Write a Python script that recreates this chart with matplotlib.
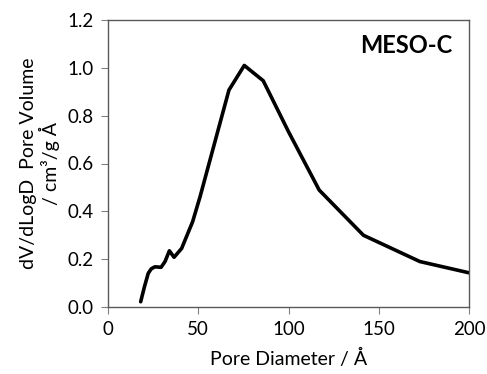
import numpy as np
import matplotlib.pyplot as plt

plt.rcParams['font.family'] = ['Lato', 'DejaVu Sans']

# Pore size distribution
pore_diameter = [18.1, 20.2, 22.3, 24.0, 26.0, 29.4, 31.6, 34.0, 36.6, 40.8, 46.9, 51.0,
                 67.0, 75.5, 86.0, 100.0, 117.0, 141.5, 172.8, 200.0]
dv_dlogd = [0.022, 0.085, 0.141, 0.160, 0.168, 0.166, 0.190, 0.235, 0.208, 0.245, 0.357, 0.461,
            0.907, 1.010, 0.946, 0.733, 0.489, 0.300, 0.190, 0.143]

x_ticks = [0, 50, 100, 150, 200]
y_ticks = [0.0, 0.2, 0.4, 0.6, 0.8, 1.0, 1.2]

fig = plt.figure(figsize=(4.87, 3.74), dpi=100)
ax = fig.add_axes([108 / 487, 1 - 307 / 374, 361 / 487, 287 / 374])

ax.plot(pore_diameter, dv_dlogd, color='black', linewidth=2.6,
        solid_joinstyle='round', solid_capstyle='round')

ax.set_xlim(0, 200)
ax.set_ylim(0, 1.2)
ax.set_xticks(x_ticks)
ax.set_yticks(y_ticks)
ax.set_yticklabels([f'{v:.1f}' for v in y_ticks])
ax.tick_params(direction='out', length=5, color='#808080', labelsize=13.5, pad=5)
for s in ax.spines.values():
    s.set_color('#595959')
    s.set_linewidth(1)

ax.set_xlabel('Pore Diameter / Å', fontsize=14, labelpad=8)
ax.set_ylabel('dV/dLogD  Pore Volume\n/ cm³/g Å', fontsize=14, labelpad=6, linespacing=1.1)
ax.text(0.955, 0.91, 'MESO-C', transform=ax.transAxes, ha='right', va='center',
        fontsize=17, fontweight='bold')

fig.savefig('out.png', dpi=100)
